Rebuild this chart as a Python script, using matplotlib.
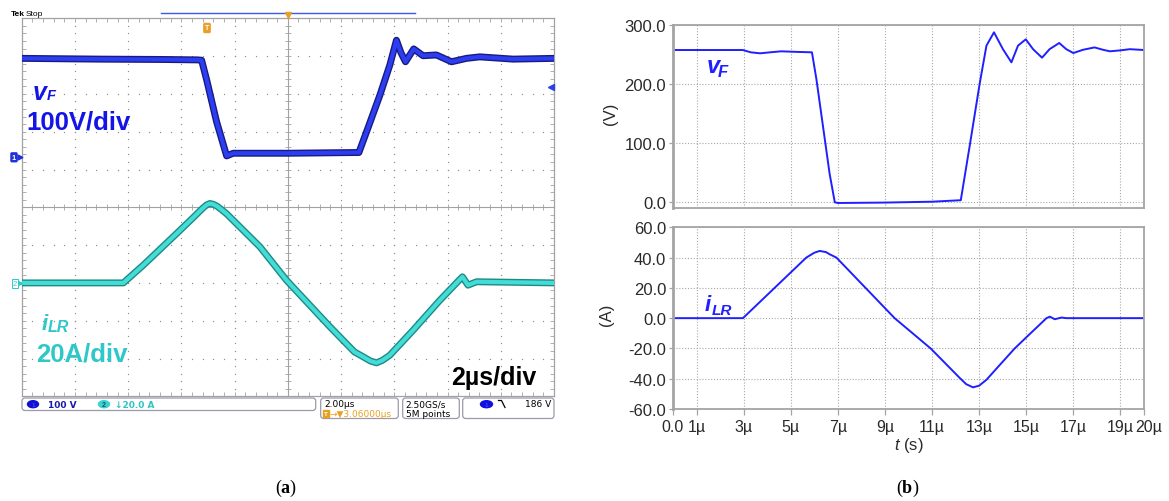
import numpy as np
import matplotlib
matplotlib.use("Agg")
import matplotlib.pyplot as plt
from matplotlib.patches import FancyBboxPatch, Ellipse

plt.rcParams['font.family'] = ['Liberation Sans', 'DejaVu Sans']
plt.rcParams['mathtext.fontset'] = 'custom'
plt.rcParams['mathtext.rm'] = 'Liberation Sans'
plt.rcParams['mathtext.it'] = 'Liberation Sans:italic'
plt.rcParams['mathtext.bf'] = 'Liberation Serif:bold'

# ---------------- data: (a) oscilloscope capture ----------------
scope_vf_t = [0.0, 2.9, 5.4, 6.6, 6.76, 6.95, 7.32, 7.70, 7.95, 10.0, 12.67, 13.0,
              13.46, 13.83, 14.08, 14.25, 14.42, 14.73, 15.08, 15.58, 16.15, 16.71,
              17.21, 18.46, 20.0]
scope_vf_v = [260, 258, 257, 256, 255, 203, 93, 2, 9, 9, 11, 74,
              163, 242, 308, 275, 251, 285, 267, 269, 251, 260,
              264, 258, 260]
scope_il_t = [0.0, 3.82, 4.57, 5.82, 6.44, 6.80, 6.95, 7.07, 7.20, 7.35, 7.69, 8.95, 9.95,
              11.58, 12.50, 12.83, 13.10, 13.33, 13.55, 13.83, 14.71, 15.71, 16.46,
              16.56, 16.77, 17.09, 20.0]
scope_il_a = [0.0, 0.0, 9.4, 26.1, 34.5, 39.5, 41.3, 42.0, 41.6, 40.5, 36.7, 19.1, 1.4,
              -23.2, -36.5, -39.1, -41.3, -42.3, -41.0, -38.3, -25.0, -9.2, 1.8,
              3.2, -1.2, 0.6, 0.0]
ch1_volts_per_div = 100.0
ch1_offset_div = 1.34
ch2_amps_per_div = 20.0
ch2_offset_div = -2.0

# ---------------- data: (b) simulation ----------------
sim_vf_t = [0, 2.97, 3.3, 3.7, 4.2, 4.6, 5.2, 5.9, 6.09, 6.37, 6.65, 6.87, 7.0,
            9.0, 11.0, 12.22, 12.6, 13.02, 13.31, 13.63, 14.01, 14.37, 14.65, 14.98,
            15.29, 15.67, 15.99, 16.4, 16.7, 17.0, 17.41, 17.9, 18.26, 18.55, 19.0,
            19.4, 20.0]
sim_vf_v = [257.6, 257.6, 253.7, 252.0, 254.0, 255.4, 254.5, 253.7, 208, 128, 48, -0.5, -1.7,
            -1.0, 0.5, 3.0, 95.5, 200, 265, 287.6, 259, 236.7, 265, 275.7,
            259, 244.6, 259, 269.5, 259, 252.5, 258, 262, 258, 255.4, 257,
            259, 257.6]
sim_il_t = [0, 2.97, 5.66, 6.0, 6.23, 6.5, 6.65, 6.94, 9.41, 10.94, 12.17, 12.45,
            12.74, 13.0, 13.31, 13.87, 14.51, 15.0, 15.86, 16.0, 16.21, 16.5, 16.7, 20.0]
sim_il_a = [0, 0, 40.0, 43.2, 44.4, 43.6, 42.2, 40.0, 0.0, -20.0, -39.4, -43.6,
            -45.7, -44.6, -40.7, -31.0, -20.0, -12.7, 0.0, 1.0, -0.7, 0.4, 0.0, 0.0]
sim_xticks = [0, 1, 3, 5, 7, 9, 11, 13, 15, 17, 19, 20]
sim_xticklabels = ['0.0', '1µ', '3µ', '5µ', '7µ', '9µ', '11µ', '13µ', '15µ', '17µ', '19µ', '20µ']
sim_v_ticks = [0, 100, 200, 300]
sim_v_ticklabels = ['0.0', '100.0', '200.0', '300.0']
sim_i_ticks = [-60, -40, -20, 0, 20, 40, 60]
sim_i_ticklabels = ['-60.0', '-40.0', '-20.0', '0.0', '20.0', '40.0', '60.0']

W, H = 1169, 502
fig = plt.figure(figsize=(W / 100, H / 100), dpi=100)


def fx(x):
    return x / W


def fy(y):
    return 1 - y / H


# ================= (a) scope =================
grid_c = '#a2a2a2'
dot_c = '#8e8e8e'
ax = fig.add_axes([fx(21.7), fy(397.3), (554 - 21.7) / W, (397.3 - 19.3) / H])
ax.set_xlim(0, 20)
ax.set_ylim(-5, 5)
ax.set_xticks(np.arange(0, 20.01, 2))
ax.set_xticks(np.arange(0, 20.01, 0.4), minor=True)
ax.set_yticks(np.arange(-5, 5.01, 1))
ax.set_yticks(np.arange(-5, 5.01, 0.2), minor=True)
ax.tick_params(which='both', direction='in', length=3, width=0.6, color=grid_c,
               top=True, right=True, labelbottom=False, labelleft=False)
for s in ax.spines.values():
    s.set_color(grid_c)
    s.set_linewidth(0.9)

xm = np.arange(0, 20.01, 0.4)
ym = np.arange(-5, 5.01, 0.2)
for xv in range(2, 20, 2):
    if xv != 10:
        ax.plot(np.full_like(ym, xv), ym, ls='none', marker='o', ms=0.95, mew=0,
                color=dot_c, zorder=1)
for yv in range(-4, 5):
    if yv != 0:
        ax.plot(xm, np.full_like(xm, yv), ls='none', marker='o', ms=0.95, mew=0,
                color=dot_c, zorder=1)
ax.axhline(0, color=grid_c, lw=0.8, zorder=1)
ax.axvline(10, color=grid_c, lw=0.8, zorder=1)
ax.plot(xm, np.zeros_like(xm), ls='none', marker='|', ms=4.5, mew=0.6, color=grid_c, zorder=1)
ax.plot(np.full_like(ym, 10), ym, ls='none', marker='_', ms=4.5, mew=0.6, color=grid_c, zorder=1)

vf_div = np.array(scope_vf_v) / ch1_volts_per_div + ch1_offset_div
il_div = np.array(scope_il_a) / ch2_amps_per_div + ch2_offset_div
ax.plot(scope_il_t, il_div, color='#1e8a84', lw=5.0, solid_joinstyle='round', zorder=3)
ax.plot(scope_il_t, il_div, color='#44dcd6', lw=3.0, solid_joinstyle='round', zorder=4)
ax.plot(scope_vf_t, vf_div, color='#1a1a80', lw=5.0, solid_joinstyle='round', zorder=3)
ax.plot(scope_vf_t, vf_div, color='#2b3ef2', lw=3.0, solid_joinstyle='round', zorder=4)

# overlay in pixel coordinates
ov = fig.add_axes([0, 0, 1, 1], zorder=10)
ov.set_xlim(0, W)
ov.set_ylim(H, 0)
ov.axis('off')
ov.patch.set_alpha(0)

# top header
ov.text(10.5, 14.5, 'Tek', fontsize=6, fontweight='bold', va='center', ha='left')
ov.text(26, 14.5, 'Stop', fontsize=6, va='center', ha='left')
ov.plot([161, 415], [14.3, 14.3], color='#3a5ae8', lw=1.0)
ov.plot([288], [16], marker='v', ms=4.5, color='#e8a020', ls='none')
ov.text(207, 29, 'T', fontsize=5, color='white', fontweight='bold', ha='center', va='center',
        bbox=dict(boxstyle='round,pad=0.15', fc='#eaa028', ec='#eaa028'))
# channel markers
ov.text(14, 158.3, '1', fontsize=5.5, color='white', fontweight='bold', ha='center', va='center',
        bbox=dict(boxstyle='round,pad=0.12', fc='#2030d8', ec='#2030d8'))
ov.plot([19.5], [158.3], marker='>', ms=3.5, color='#2030d8', ls='none')
ov.text(15, 284.4, '2', fontsize=5.5, color='#30c8c8', ha='center', va='center',
        bbox=dict(boxstyle='square,pad=0.1', fc='white', ec='#30c8c8', lw=0.7))
ov.plot([20], [284.4], marker='>', ms=3, color='#30c8c8', ls='none')
ov.plot([550.5], [87.7], marker='<', ms=4, color='#2a40e8', ls='none')

# labels in scope
blue_t = '#1414e6'
cyan_t = '#2ec8c8'
ov.text(33, 100, 'v', fontsize=18, fontweight='bold', style='italic', color=blue_t, va='baseline')
ov.text(46.5, 100.5, 'F', fontsize=10.5, fontweight='bold', style='italic', color=blue_t, va='baseline')
ov.text(26, 130, '100V/div', fontsize=18.5, fontweight='bold', color=blue_t, va='baseline')
ov.text(42, 330, 'i', fontsize=16, fontweight='bold', style='italic', color=cyan_t, va='baseline')
ov.text(48, 332.5, 'LR', fontsize=11.5, fontweight='bold', style='italic', color=cyan_t, va='baseline')
ov.text(36, 362, '20A/div', fontsize=18.5, fontweight='bold', color=cyan_t, va='baseline')
ov.text(451, 385, '2µs/div', fontsize=18, fontweight='bold', color='black', va='baseline')

# status bar
box_ec = '#9a9aaa'
for (x0, x1, y0, y1) in [(22, 315.7, 399, 411.5), (320.7, 398.3, 399, 419.5),
                         (402.7, 459.3, 399, 419.5), (462.7, 554, 399, 419.5)]:
    ov.add_patch(FancyBboxPatch((x0, y0), x1 - x0, y1 - y0,
                                boxstyle='round,pad=0,rounding_size=3',
                                fc='white', ec=box_ec, lw=0.9))
mono = 'DejaVu Sans'
ov.add_patch(Ellipse((33, 405.2), 11, 7, color='#1010d0'))
ov.text(33, 405.4, '1', fontsize=4.5, color='#5060ff', ha='center', va='center')
ov.text(48, 405.3, '100 V', fontsize=6.5, color='#1a1aa8', fontweight='bold', family=mono, va='center')
ov.add_patch(Ellipse((104, 405.2), 11, 7, color='#38d4d4'))
ov.text(104, 405.4, '2', fontsize=5, color='#205050', fontweight='bold', ha='center', va='center')
ov.text(115, 405.3, '↓20.0 A', fontsize=6.5, color='#30c4c4', fontweight='bold', family=mono, va='center')
ov.text(324, 404.8, '2.00µs', fontsize=6.5, color='black', family=mono, va='center')
ov.text(326, 414.8, 'T', fontsize=4.5, color='white', fontweight='bold', ha='center', va='center',
        bbox=dict(boxstyle='square,pad=0.15', fc='#e8a020', ec='#e8a020'))
ov.text(330, 414.8, '→▼3.06000µs', fontsize=6.5, color='#e8a020', family=mono, va='center')
ov.text(405.5, 404.8, '2.50GS/s', fontsize=6.5, color='black', family=mono, va='center')
ov.text(405.5, 414.8, '5M points', fontsize=6.5, color='black', family=mono, va='center')
ov.add_patch(Ellipse((486.5, 405.2), 12, 7, color='#1010e0'))
ov.text(486.5, 405.4, '1', fontsize=4.5, color='#5060ff', ha='center', va='center')
ov.plot([498.5, 501.5, 505], [401.5, 401.5, 408.5], color='black', lw=0.9)
ov.text(551, 404.8, '186 V', fontsize=6.5, color='black', family=mono, va='center', ha='right')

# ================= (b) simulation =================
sp_c = '#a4a4a4'
line_c = '#1f1fff'
tick_c = '#2a2a2a'


def style_axes(a):
    for name, s in a.spines.items():
        s.set_color(sp_c)
        s.set_linewidth(2.0 if name == 'left' else 1.3)
    a.grid(True, ls=(0, (1, 1.6)), color='#a8a8a8', lw=0.8)
    a.set_axisbelow(True)
    a.tick_params(axis='y', direction='out', length=3, width=0.9, color=sp_c,
                  labelsize=12, labelcolor=tick_c, pad=2)


axv = fig.add_axes([fx(673), fy(209.3), 471 / W, (209.3 - 26) / H])
axv.plot(sim_vf_t, sim_vf_v, color=line_c, lw=1.4)
axv.set_xlim(0, 20)
axv.set_ylim(-10.7, 300)
axv.set_yticks(sim_v_ticks)
axv.set_yticklabels(sim_v_ticklabels)
axv.set_xticks(sim_xticks[1:-1])
style_axes(axv)
axv.tick_params(axis='x', length=0, labelbottom=False)
axv.set_ylabel('(V)', fontsize=12, color=tick_c)
axv.yaxis.set_label_coords(-0.117, 0.52)
axv.text(707, 73.3, 'v', transform=ov.transData, fontsize=17, fontweight='bold',
         style='italic', color=line_c, va='baseline')
axv.text(718, 77.3, 'F', transform=ov.transData, fontsize=12, fontweight='bold',
         style='italic', color=line_c, va='baseline')

axi = fig.add_axes([fx(673), fy(410), 471 / W, (410 - 228.3) / H])
axi.plot(sim_il_t, sim_il_a, color=line_c, lw=1.4)
axi.set_xlim(0, 20)
axi.set_ylim(-60, 60)
axi.set_yticks(sim_i_ticks)
axi.set_yticklabels(sim_i_ticklabels)
axi.set_xticks(sim_xticks)
axi.set_xticklabels(sim_xticklabels[:-1] + [''])
style_axes(axi)
axi.tick_params(axis='x', direction='out', length=4, width=0.9, color=sp_c,
                labelsize=11.5, labelcolor=tick_c, pad=3)
# last x label sits slightly right of its tick in the reference
axi.text(1149, 420.5, sim_xticklabels[-1], transform=ov.transData, fontsize=11.5,
         color=tick_c, ha='center', va='top')
axi.set_ylabel('(A)', fontsize=12, color=tick_c)
axi.yaxis.set_label_coords(-0.125, 0.523)
axi.set_xlabel('$t$ (s)', fontsize=12, color=tick_c, labelpad=1)
axi.text(705, 310.7, 'i', transform=ov.transData, fontsize=16, fontweight='bold',
         style='italic', color=line_c, va='baseline')
axi.text(711.5, 315, 'LR', transform=ov.transData, fontsize=11, fontweight='bold',
         style='italic', color=line_c, va='baseline')

# panel captions
ov.text(286, 488, r'($\mathbf{a}$)', fontsize=13, family='Liberation Serif', ha='center', va='center')
ov.text(908, 488, r'($\mathbf{b}$)', fontsize=13, family='Liberation Serif', ha='center', va='center')

fig.savefig('out.png', dpi=100)
